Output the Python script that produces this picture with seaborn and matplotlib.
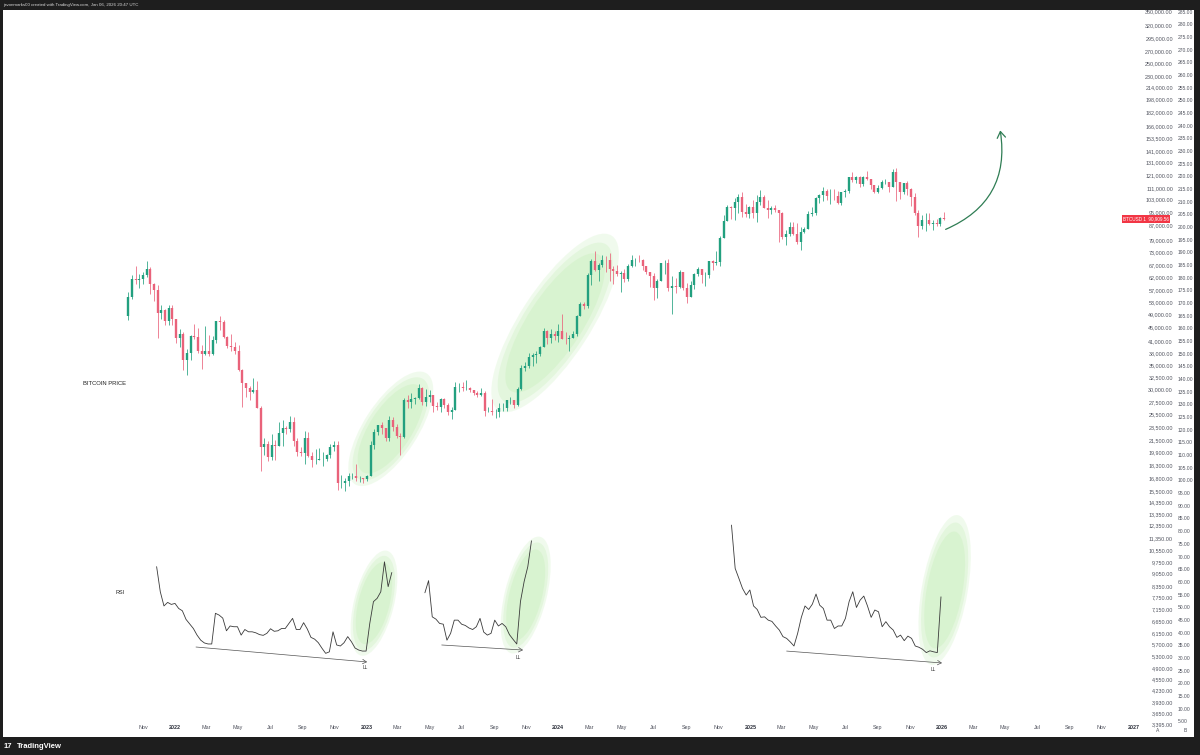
import matplotlib
matplotlib.use("Agg")
import numpy as np
import pandas as pd
import matplotlib.pyplot as plt
import matplotlib.dates as mdates
from matplotlib.patches import Ellipse, Rectangle, FancyArrowPatch
from matplotlib.ticker import NullLocator
from matplotlib.transforms import ScaledTranslation
import seaborn as sns

# weekly BTCUSD candles (thousand USD), first week starts on 2021-10-04
first_week = "2021-10-04"
first_open_k = 48.2
high_k = [
    56.6, 62.9, 67.0, 63.7, 64.3, 69.0, 66.3, 59.9, 59.2, 51.9, 50.5, 51.9, 52.0,
    47.5, 44.4, 43.5, 38.9, 42.6, 45.8, 44.8, 40.0, 45.4, 42.6, 42.4, 46.8, 48.2,
    47.0, 42.4, 42.9, 40.8, 40.0, 34.3, 31.3, 30.6, 32.2, 31.7, 26.9, 21.9, 21.5,
    22.4, 21.6, 24.3, 24.6, 23.6, 25.2, 25.0, 21.9, 20.6, 22.8, 22.7, 19.9, 20.4,
    20.5, 19.9, 19.7, 21.0, 21.5, 21.5, 17.2, 16.8, 17.4, 17.4, 18.4, 17.1, 16.9,
    17.2, 21.4, 23.1, 23.8, 24.2, 23.4, 25.2, 25.1, 23.9, 22.6, 28.4, 28.9, 29.2,
    28.6, 31.0, 30.5, 30.0, 29.8, 29.0, 27.6, 28.4, 28.4, 27.4, 26.8, 31.4, 31.3,
    31.4, 31.8, 30.4, 29.9, 29.7, 30.2, 29.7, 26.8, 28.1, 26.4, 27.5, 27.5, 28.0,
    28.6, 28.0, 30.4, 35.2, 35.9, 37.9, 37.9, 38.4, 39.8, 44.7, 44.0, 44.4, 43.8,
    45.9, 49.0, 43.6, 42.8, 43.8, 48.5, 52.8, 52.9, 64.0, 70.1, 73.8, 68.1, 71.8,
    71.3, 72.8, 66.8, 67.2, 64.7, 65.5, 67.7, 71.9, 70.6, 72.0, 70.2, 67.0, 64.5,
    63.8, 61.4, 68.4, 69.4, 70.0, 62.7, 61.8, 65.0, 64.5, 59.8, 60.6, 64.1, 66.5,
    65.6, 64.5, 69.0, 69.5, 73.6, 81.5, 93.4, 99.6, 98.7, 104.0, 106.6, 108.4, 99.9,
    99.0,
    102.7, 106.4, 109.6, 106.5, 102.5, 98.8, 99.5, 96.5, 95.0, 84.5, 88.8, 88.8, 88.5,
    86.1, 86.4, 95.8, 97.9, 104.9, 106.7, 112.0, 110.7, 110.4, 110.5, 108.9, 108.5,
    110.5, 119.4, 123.2, 120.2, 120.0, 120.3, 124.5, 117.6, 113.5, 113.4, 116.7, 117.9,
    115.4, 125.7, 126.2, 115.9, 114.6, 116.4, 110.8, 107.5, 96.6, 93.1, 94.2, 94.6,
    90.4, 90.6, 91.9,
    94.8,
]
low_k = [
    47.1, 54.0, 59.7, 57.8, 59.4, 62.3, 55.6, 53.3, 42.0, 47.3, 45.5, 45.6, 45.7,
    40.6, 39.6, 34.0, 32.9, 36.3, 41.6, 38.0, 34.3, 37.5, 37.2, 37.6, 40.5, 44.1,
    42.0, 39.2, 38.5, 37.7, 33.7, 26.7, 28.6, 28.0, 29.3, 26.6, 17.6, 19.6, 18.8,
    19.0, 18.9, 20.8, 20.7, 22.4, 22.7, 20.8, 19.5, 19.5, 18.5, 19.3, 18.1, 18.5,
    19.0, 18.2, 18.8, 19.2, 20.1, 15.6, 15.8, 15.5, 16.0, 16.7, 16.5, 16.4, 16.3,
    16.5, 17.1, 20.4, 22.3, 22.5, 21.4, 21.5, 22.8, 21.9, 19.6, 21.9, 26.6, 26.5,
    27.2, 28.2, 27.1, 26.9, 27.6, 25.8, 26.2, 25.9, 26.6, 25.4, 24.8, 26.2, 29.5,
    29.7, 29.9, 29.5, 28.9, 28.6, 28.7, 25.2, 25.8, 25.4, 24.9, 25.0, 26.0, 26.0,
    27.2, 26.5, 26.9, 29.9, 33.9, 34.5, 34.8, 35.6, 37.2, 39.5, 40.2, 40.5, 41.3,
    40.8, 41.5, 40.3, 38.5, 41.9, 42.3, 48.3, 50.6, 50.9, 59.0, 64.6, 60.8, 66.4,
    64.5, 60.7, 59.6, 62.8, 56.5, 60.2, 60.8, 66.6, 66.7, 68.5, 65.1, 63.4, 58.4,
    53.5, 54.3, 60.6, 63.5, 57.0, 49.0, 56.1, 57.9, 57.2, 52.5, 54.6, 57.6, 62.6,
    59.8, 58.9, 62.0, 65.1, 67.5, 66.8, 80.2, 89.4, 90.8, 90.5, 94.2, 92.2, 92.0,
    91.3,
    91.2, 89.3, 99.5, 97.3, 91.2, 94.1, 94.9, 78.2, 80.0, 76.6, 81.2, 81.6, 77.1,
    74.4, 83.1, 85.1, 92.8, 93.4, 100.7, 102.0, 103.1, 100.4, 103.0, 100.4, 99.6,
    105.1, 107.5, 115.7, 114.7, 112.0, 112.6, 116.8, 110.6, 107.3, 107.3, 110.6, 114.4,
    108.6, 111.6, 102.0, 103.5, 106.6, 106.3, 98.9, 93.0, 80.6, 85.3, 83.8, 87.6,
    84.4, 86.6, 86.9,
    90.5,
]
close_k = [
    54.7, 61.5, 61.1, 61.3, 63.3, 65.5, 59.7, 57.3, 49.4, 50.1, 46.7, 50.8, 47.3,
    41.9, 43.1, 36.3, 37.9, 42.4, 42.2, 38.4, 37.7, 38.4, 37.8, 41.3, 46.8, 46.4,
    42.2, 39.7, 39.5, 38.5, 34.1, 31.3, 30.3, 29.4, 29.9, 26.6, 20.6, 21.0, 19.3,
    20.9, 20.8, 22.6, 23.3, 23.2, 24.3, 21.5, 20.0, 19.8, 21.8, 19.4, 18.9, 19.0,
    19.1, 19.1, 19.6, 20.6, 20.9, 16.3, 16.3, 16.5, 17.1, 17.1, 16.8, 16.8, 16.7,
    17.1, 20.9, 22.7, 23.8, 23.3, 21.8, 24.6, 23.5, 22.2, 22.0, 28.0, 27.6, 28.2,
    28.3, 30.3, 27.6, 28.5, 28.9, 26.9, 26.7, 28.1, 27.1, 25.9, 26.3, 30.5, 30.5,
    30.2, 30.2, 29.8, 29.3, 29.0, 29.3, 26.1, 26.1, 25.8, 25.8, 26.5, 26.5, 27.9,
    27.9, 27.1, 30.0, 34.5, 35.0, 37.1, 37.4, 37.8, 39.5, 43.8, 41.9, 43.0, 42.3,
    43.9, 41.7, 41.6, 42.0, 43.0, 48.3, 52.1, 51.7, 63.1, 68.9, 65.3, 67.2, 69.6,
    69.4, 65.7, 64.9, 63.4, 63.9, 61.4, 66.9, 69.4, 69.7, 69.6, 66.7, 64.3, 62.7,
    58.0, 60.8, 68.2, 68.3, 58.1, 58.7, 58.4, 64.2, 58.0, 54.8, 59.1, 63.6, 65.6,
    62.9, 62.9, 69.0, 68.3, 68.7, 80.4, 89.9, 97.9, 97.3, 101.2, 104.5, 95.2, 93.7,
    98.3,
    94.5, 101.3, 104.7, 97.7, 96.5, 97.6, 96.3, 94.3, 80.7, 82.6, 86.1, 82.4, 78.4,
    83.7, 85.2, 93.8, 94.3, 104.1, 106.5, 109.0, 105.6, 105.7, 105.5, 100.9, 108.4,
    109.2, 119.1, 117.3, 119.5, 114.2, 119.3, 117.5, 113.5, 108.2, 111.1, 115.3, 115.3,
    112.2, 123.5, 115.2, 108.6, 114.5, 110.5, 104.7, 94.2, 86.8, 90.4, 90.4, 88.2,
    88.6, 87.8, 91.5,
    91.0,
]

# hand-drawn RSI traces, read on the "B" scale, one point per week
rsi_a_start = "2021-11-27"
rsi_a = [66.0, 56.1, 50.5, 51.9, 51.1, 51.5, 49.5, 48.6, 45.2, 43.4, 41.6, 39.0, 37.0,
         35.9, 35.5, 35.5, 47.6, 46.9, 45.7, 40.7, 42.6, 42.3, 42.3, 39.0, 41.2, 40.3,
         40.3, 39.9, 39.2, 38.9, 39.7, 41.5, 40.5, 40.7, 41.6, 41.6, 43.6, 45.6, 41.2,
         41.2, 43.9, 41.4, 38.1, 37.4, 36.0, 33.8, 31.8, 32.4, 40.3, 35.1, 34.7, 36.0,
         38.4, 36.4, 33.9, 33.1, 32.7, 32.7, 43.6, 52.2, 53.5, 56.1, 67.9, 58.1, 63.7]
rsi_b_start = "2023-04-22"
rsi_b = [55.7, 60.5, 46.2, 45.3, 43.6, 43.3, 37.0, 39.7, 44.9, 44.9, 43.3, 42.8, 41.8,
         41.2, 42.3, 45.6, 40.2, 39.0, 39.7, 44.9, 42.6, 43.6, 42.3, 39.2, 37.3, 35.5,
         52.2, 60.1, 66.0, 76.2]
rsi_c_start = "2024-11-26"
rsi_c = [82.4, 65.3, 61.4, 57.4, 54.8, 56.8, 50.5, 49.1, 46.0, 46.2, 44.9, 44.4, 42.6,
         41.0, 38.4, 37.7, 36.3, 34.7, 39.7, 46.0, 50.5, 49.1, 51.2, 55.2, 50.8, 49.5,
         44.9, 44.9, 41.6, 42.6, 42.6, 45.6, 52.2, 56.1, 49.9, 52.8, 54.4, 50.5, 46.0,
         48.9, 48.2, 42.3, 44.3, 42.3, 41.0, 38.1, 39.0, 36.8, 38.6, 37.7, 34.7, 34.2,
         33.4, 32.1, 32.8, 32.4, 32.1, 54.1]

# lower-low trendlines under the RSI: start date, start value, end date, end value
ll_lines = [
    ("2022-02-10", 34.3, "2023-01-02", 28.4),
    ("2023-05-24", 35.1, "2023-10-26", 33.1),
    ("2025-03-11", 32.7, "2026-01-01", 28.0),
]
ll_labels = [("2022-12-24", 26.2), ("2023-10-12", 30.2), ("2025-12-11", 25.4)]

price_ticks = [350000, 320000, 295000, 270000, 250000, 230000, 214000, 198000, 182000,
               166000, 153500, 141000, 131000, 121000, 111000, 103000, 95000, 87000,
               79000, 73000, 67000, 62000, 57000, 53000, 49000, 45000, 41000, 38000,
               35000, 32500, 30000, 27500, 25500, 23500, 21500, 19900, 18300, 16800,
               15500, 14350, 13350, 12350, 11350, 10550, 9750, 9050, 8350, 7750, 7150,
               6650, 6150, 5700, 5300, 4900, 4550, 4230, 3930, 3650, 3395]
scale_b_ticks = list(range(5, 290, 5))
price_label = "BTCUSD 1  90,909.56"

UP = "#22a07f"
DOWN = "#e9627a"
DARK = "#1e1e1e"
GLOW = "#c6efb8"
TXT = "#50535e"

sns.set_theme(style="white")
plt.rcParams["font.family"] = ["Liberation Sans", "DejaVu Sans"]

W, H = 1200, 755
fig = plt.figure(figsize=(12, 7.55), dpi=100, facecolor=DARK)


def fx(px):
    return px / W


def fy(py):
    return 1 - py / H


# white chart canvas
fig.add_artist(Rectangle((fx(3), fy(737)), fx(1194) - fx(3), fy(10) - fy(737),
                         transform=fig.transFigure, facecolor="white",
                         edgecolor="none", zorder=-1))
ax = fig.add_axes([fx(3), fy(737), fx(1143) - fx(3), fy(10) - fy(737)])
ax2 = ax.twinx()
ax.set_facecolor("white")

# candles
weeks = pd.date_range(first_week, periods=len(close_k), freq="7D")
xs = mdates.date2num(weeks)
o = np.array([first_open_k] + close_k[:-1]) * 1000
c = np.array(close_k) * 1000
h = np.array(high_k) * 1000
l = np.array(low_k) * 1000
cols = np.where(c >= o, UP, DOWN)
ax.set_yscale("log")
ax.vlines(xs, l, h, colors=cols, linewidth=0.55, zorder=3)
ax.vlines(xs, np.minimum(o, c), np.maximum(o, c), colors=cols, linewidth=1.7,
          zorder=4)


def glow(axis, day, value, w_px, h_px, angle):
    # soft highlighted ellipse, sized in pixels, centred on a data point
    tr = fig.dpi_scale_trans + ScaledTranslation(
        mdates.date2num(pd.Timestamp(day)), value, axis.transData)
    for s, a in [(1.0, 0.25), (0.9, 0.3), (0.78, 0.35)]:
        axis.add_artist(Ellipse((0, 0), w_px * s / 100, h_px * s / 100, angle=angle,
                                transform=tr, facecolor=GLOW, edgecolor="none",
                                alpha=a, zorder=1))


glow(ax, "2023-02-16", 23200, 132, 54, 57)
glow(ax, "2023-12-26", 46200, 208, 70, 57)
glow(ax2, "2023-01-15", 51.6, 108, 40, 76)
glow(ax2, "2023-10-31", 54.8, 120, 42, 76)
glow(ax2, "2026-01-06", 56.8, 152, 46, 80)

# projection arrow
arrow = FancyArrowPatch((mdates.date2num(pd.Timestamp("2026-01-03")), 84300),
                        (mdates.date2num(pd.Timestamp("2026-04-21")), 164500),
                        connectionstyle="arc3,rad=0.4",
                        arrowstyle="->,head_length=0.45,head_width=0.3",
                        mutation_scale=10, color="#2f7d54", linewidth=0.9, zorder=5)
ax.add_artist(arrow)

# RSI traces
frames = []
for name, start, vals in [("a", rsi_a_start, rsi_a), ("b", rsi_b_start, rsi_b),
                          ("c", rsi_c_start, rsi_c)]:
    d = pd.date_range(start, periods=len(vals), freq="7D")
    frames.append(pd.DataFrame({"x": mdates.date2num(d), "rsi": vals, "seg": name}))
rsi_df = pd.concat(frames, ignore_index=True)
sns.lineplot(data=rsi_df, x="x", y="rsi", units="seg", estimator=None,
             color="#3a3a3a", linewidth=0.6, ax=ax2, legend=False, zorder=3)

for d0, v0, d1, v1 in ll_lines:
    ax2.annotate("", xy=(mdates.date2num(pd.Timestamp(d1)), v1),
                 xytext=(mdates.date2num(pd.Timestamp(d0)), v0),
                 arrowprops=dict(arrowstyle="->,head_length=0.35,head_width=0.2",
                                 color="#555555", lw=0.5, shrinkA=0, shrinkB=0,
                                 mutation_scale=8))
for d, v in ll_labels:
    ax2.text(mdates.date2num(pd.Timestamp(d)), v, "LL", fontsize=3.5, color="#333333",
             ha="left", va="center")

ax.text(mdates.date2num(pd.Timestamp("2021-07-10")), 31200, "BITCOIN PRICE",
        fontsize=4.2, color="#222222", ha="left", va="center")
ax2.text(mdates.date2num(pd.Timestamp("2021-09-09")), 56.0, "RSI",
         fontsize=4.0, color="#222222", ha="left", va="center")

# scales
x0 = mdates.date2num(pd.Timestamp("2022-01-01"))
ax.set_xlim(x0 - 327.6, x0 + 1843.8)
ax.set_ylim(3125.5, 353700)
ax2.set_ylim(-1.2, 285.6)

month_ticks = pd.date_range("2021-11-01", "2027-01-01", freq="2MS")
month_labels = [str(t.year) if t.month == 1 else t.strftime("%b") for t in month_ticks]
ax.set_xticks(mdates.date2num(month_ticks))
ax.set_xticklabels(month_labels)
ax.tick_params(axis="x", length=0, pad=-5.8, labelsize=3.9, labelcolor=TXT)
for t in ax.get_xticklabels():
    t.set_verticalalignment("baseline")
    if t.get_text().isdigit():
        t.set_fontweight("bold")
        t.set_color("#2a2e39")

ax.yaxis.tick_right()
ax.yaxis.set_minor_locator(NullLocator())
ax.set_yticks(price_ticks)
ax.set_yticklabels([f"{v:,.2f}" for v in price_ticks], ha="right")
ax.tick_params(axis="y", which="both", length=0, pad=21.6, labelsize=3.9,
               labelcolor=TXT)

ax2.set_yticks(scale_b_ticks)
ax2.set_yticklabels([f"{v:.2f}" for v in scale_b_ticks])
ax2.tick_params(axis="y", length=0, pad=25.0, labelsize=3.6, labelcolor=TXT)

for a in (ax, ax2):
    a.set_xlabel("")
    a.set_ylabel("")
    for s in a.spines.values():
        s.set_visible(False)

ax.annotate(price_label, xy=(1.0228, c[-1]), xycoords=("axes fraction", "data"),
            ha="right", va="center", fontsize=3.3, color="white", zorder=10,
            annotation_clip=False,
            bbox=dict(boxstyle="square,pad=0.3", facecolor="#f23645", edgecolor="none"))

fig.text(fx(1158), fy(731), "A", fontsize=3.6, color=TXT, ha="center", va="center")
fig.text(fx(1185), fy(731), "B", fontsize=3.6, color=TXT, ha="center", va="center")

# frame bars
fig.add_artist(Rectangle((0, fy(10)), 1, 10 / H, transform=fig.transFigure,
                         facecolor=DARK, edgecolor="none", zorder=5))
fig.add_artist(Rectangle((0, 0), 1, 18 / H, transform=fig.transFigure,
                         facecolor=DARK, edgecolor="none", zorder=5))
fig.add_artist(Rectangle((fx(1194), 0), 6 / W, 1, transform=fig.transFigure,
                         facecolor=DARK, edgecolor="none", zorder=5))
fig.text(fx(3), fy(5), "javonmarks00 created with TradingView.com, Jan 06, 2026 20:47 UTC",
         fontsize=3.2, color="#d8d8d8", ha="left", va="center", zorder=6)
fig.text(fx(4), fy(746), "17", fontsize=5.5, fontweight="bold", color="white",
         ha="left", va="center", zorder=6)
fig.text(fx(17), fy(746), "TradingView", fontsize=5.5, fontweight="bold",
         color="white", ha="left", va="center", zorder=6)

fig.savefig("out.png", dpi=100, facecolor=fig.get_facecolor())
